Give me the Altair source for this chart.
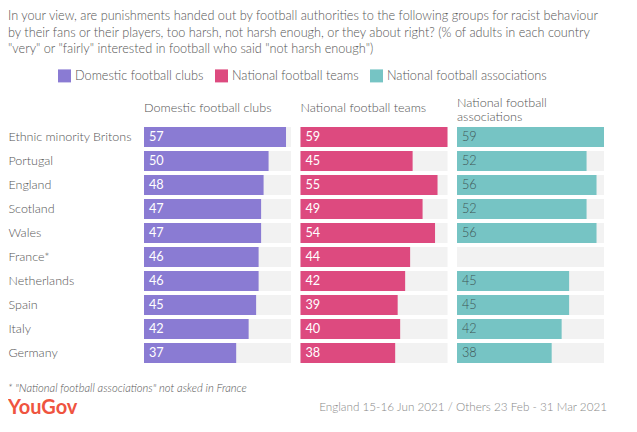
import altair as alt
import pandas as pd

FONT = "Lato"
W = 300

countries = ["Ethnic minority Britons", "Portugal", "England", "Scotland", "Wales",
             "France*", "Netherlands", "Spain", "Italy", "Germany"]
groups = ["Domestic football clubs", "National football teams", "National football associations"]
clubs = [57, 50, 48, 47, 47, 46, 46, 45, 42, 37]
teams = [59, 45, 55, 49, 54, 44, 42, 39, 40, 38]
assocs = [59, 52, 56, 52, 56, None, 45, 45, 42, 38]
scale_max = 59

colors = ["#8a7bd3", "#dd4a7f", "#76c4c4"]
label_colors = ["#ffffff", "#ffffff", "#3f5555"]
headers = [["Domestic football clubs"], ["National football teams"],
           ["National football", "associations"]]
header_offsets = [10, 10, 1]

title_lines = [
    "In your view, are punishments handed out by football authorities to the following groups for racist behaviour",
    "by their fans or their players, too harsh, not harsh enough, or they about right? (% of adults in each country",
    "\"very\" or \"fairly\" interested in football who said \"not harsh enough\")",
]
note = "* \"National football associations\" not asked in France"
brand = "YouGov"
source = "England 15-16 Jun 2021 / Others 23 Feb - 31 Mar 2021"

rows = []
for g, vals in zip(groups, [clubs, teams, assocs]):
    for c, v in zip(countries, vals):
        rows.append({"country": c, "group": g, "value": v, "maxv": scale_max})
df = pd.DataFrame(rows)

TEXT_COLOR = "#555555"


def panel(i):
    base = alt.Chart(df).transform_filter(alt.datum.group == groups[i])
    if i == 0:
        yaxis = alt.Axis(title=None, labelAlign="left", labelPadding=136, ticks=False,
                         domain=False, labelFontSize=12.5, labelColor=TEXT_COLOR,
                         labelFont=FONT, labelFontWeight=W, labelBaseline="middle")
    else:
        yaxis = None
    y = alt.Y("country:N", sort=countries,
              scale=alt.Scale(paddingInner=0.1667, paddingOuter=0.0833), axis=yaxis)
    xs = alt.Scale(domain=[0, scale_max], nice=False, zero=True)
    bg = base.mark_bar(color="#f2f2f2").encode(
        x=alt.X("maxv:Q", scale=xs, axis=None), y=y)
    bar = base.transform_filter("isValid(datum.value)").mark_bar().encode(
        x=alt.X("value:Q", scale=xs, axis=None), y=y,
        color=alt.Color("group:N", scale=alt.Scale(domain=groups, range=colors),
                        legend=alt.Legend(orient="none", legendX=-86, legendY=-56,
                                          direction="horizontal", title=None,
                                          symbolType="square", symbolSize=169,
                                          symbolStrokeWidth=0, labelFontSize=12.7,
                                          labelColor=TEXT_COLOR, labelFont=FONT,
                                          labelFontWeight=W,
                                          labelOffset=4, columnPadding=11, padding=0,
                                          labelLimit=300)))
    txt = base.transform_filter("isValid(datum.value)").mark_text(
        align="left", baseline="middle", dx=5, fontSize=12.7, font=FONT,
        fontWeight=400 if i < 2 else W,
        color=label_colors[i]).encode(
        x=alt.value(0), y=y, text=alt.Text("value:Q", format=".0f"))
    return alt.layer(bg, bar, txt).properties(
        width=147, height=240,
        title=alt.TitleParams(text=headers[i], anchor="start", frame="group",
                              fontSize=12.6, fontWeight=W, color=TEXT_COLOR,
                              font=FONT, lineHeight=14.5, offset=header_offsets[i]))


foot_note = alt.Chart(pd.DataFrame({"t": [note]})).mark_text(
    align="left", baseline="middle", fontSize=11.2, fontStyle="italic", fontWeight=W,
    font=FONT, color=TEXT_COLOR).encode(
    x=alt.value(-136), y=alt.value(24), text="t:N")
foot_brand = alt.Chart(pd.DataFrame({"t": [brand]})).mark_text(
    align="left", baseline="middle", fontSize=20, fontWeight="bold",
    font=FONT, color="#ef5440").encode(
    x=alt.value(-136), y=alt.value(43), text="t:N")
foot_source = alt.Chart(pd.DataFrame({"t": [source]})).mark_text(
    align="right", baseline="middle", fontSize=11.7, fontWeight=W,
    font=FONT, color="#888888").encode(
    x=alt.value(463), y=alt.value(42), text="t:N")
footer = alt.layer(foot_note, foot_brand, foot_source).properties(width=147, height=52)

panels = alt.hconcat(panel(0), panel(1), panel(2), spacing=9.5)

chart = alt.vconcat(panels, footer, spacing=0).properties(
    padding={"top": 2, "left": 0, "right": 0, "bottom": 0},
    title=alt.TitleParams(text=title_lines, anchor="start", fontSize=12.7,
                          fontWeight=W, color=TEXT_COLOR, font=FONT,
                          lineHeight=16.5, offset=13),
).configure_view(stroke=None)

chart.save("out.html", embed_options={"renderer": "svg", "actions": False})
